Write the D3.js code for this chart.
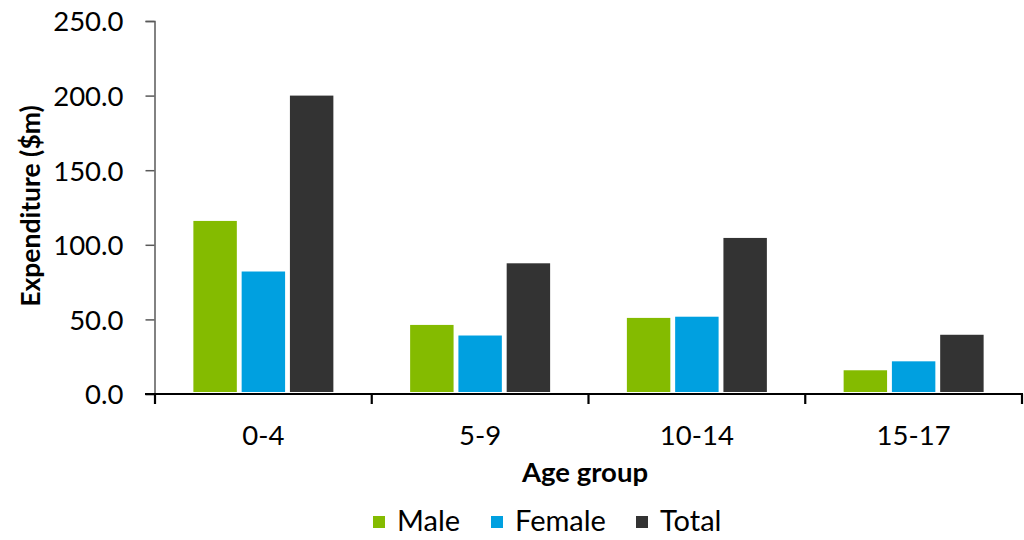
<!DOCTYPE html>
<html>
<head>
<meta charset="utf-8">
<script src="https://cdn.jsdelivr.net/npm/d3@7"></script>
<style>
  html, body { margin: 0; padding: 0; background: #fff; }
  svg { display: block; font-family: Lato, "Open Sans", sans-serif; }
</style>
</head>
<body>
<svg id="chart" width="1024" height="540"></svg>
<script>
// Expenditure by age group ($m)
const categories = ["0-4", "5-9", "10-14", "15-17"];
const seriesNames = ["Male", "Female", "Total"];
const male   = [116.0, 46.3, 51.0, 15.9];
const female = [82.1, 39.2, 51.8, 21.9];
const total  = [200.0, 87.6, 104.6, 39.7];
const yTicks = [0, 50, 100, 150, 200, 250];
const colors = ["#84bb00", "#00a0e0", "#333333"];

const values = [male, female, total];
const rows = categories.map((c, i) => ({
  category: c,
  items: seriesNames.map((s, j) => ({ series: s, value: values[j][i] }))
}));

const svg = d3.select("#chart");
const plotLeft = 155, plotRight = 1022, plotTop = 21, plotBottom = 394;

const x0 = d3.scaleBand().domain(categories).range([plotLeft, plotRight]).padding(0);
const x1 = d3.scaleBand().domain(seriesNames)
  .range([0, x0.bandwidth()]).paddingInner(0.1).paddingOuter(0.795);
const y = d3.scaleLinear().domain([0, 250]).range([plotBottom, plotTop]);
const color = d3.scaleOrdinal().domain(seriesNames).range(colors);

// bars
svg.append("g").selectAll("g").data(rows).join("g")
  .attr("transform", d => `translate(${x0(d.category)},0)`)
  .selectAll("rect").data(d => d.items).join("rect")
  .attr("x", d => x1(d.series))
  .attr("width", x1.bandwidth())
  .attr("y", d => y(d.value))
  .attr("height", d => y(0) - y(d.value) - 2)
  .attr("fill", d => color(d.series));

// y axis
const yAxis = svg.append("g")
  .attr("transform", `translate(${plotLeft - 0.5},0)`)
  .call(d3.axisLeft(y).tickValues(yTicks).tickFormat(d3.format(".1f")).tickSize(9).tickPadding(22));
yAxis.select(".domain").attr("stroke", "#595959").attr("stroke-width", 1.5);
yAxis.selectAll(".tick line").attr("stroke", "#595959").attr("stroke-width", 1.5);
yAxis.selectAll(".tick text")
  .attr("font-size", 27.5).attr("fill", "#000")
  .attr("font-family", "Lato, sans-serif")
  .attr("dy", "0.36em");

// x axis with ticks on band boundaries
const xg = svg.append("g");
xg.append("line")
  .attr("x1", plotLeft - 10).attr("x2", plotRight + 1)
  .attr("y1", plotBottom).attr("y2", plotBottom)
  .attr("stroke", "#000").attr("stroke-width", 2.2);
const bounds = categories.map(c => x0(c)).concat([x0(categories[categories.length - 1]) + x0.bandwidth()]);
xg.selectAll("line.tk").data(bounds).join("line")
  .attr("class", "tk")
  .attr("x1", d => d).attr("x2", d => d)
  .attr("y1", plotBottom).attr("y2", plotBottom + 10)
  .attr("stroke", "#000").attr("stroke-width", 2.2);
xg.selectAll("text").data(categories).join("text")
  .attr("x", d => x0(d) + x0.bandwidth() / 2)
  .attr("y", 445)
  .attr("text-anchor", "middle")
  .attr("font-size", 27.5)
  .text(d => d);

// axis titles
svg.append("text")
  .attr("x", 585).attr("y", 482)
  .attr("text-anchor", "middle")
  .attr("font-size", 27.5).attr("font-weight", "bold")
  .text("Age group");
svg.append("text")
  .attr("transform", "translate(40,206) rotate(-90)")
  .attr("text-anchor", "middle")
  .attr("font-size", 26.5).attr("font-weight", "bold")
  .text("Expenditure ($m)");

// legend
const legendX = [373, 491, 636];
const lg = svg.append("g").selectAll("g").data(seriesNames).join("g")
  .attr("transform", (d, i) => `translate(${legendX[i]},0)`);
lg.append("rect")
  .attr("x", 0).attr("y", 516).attr("width", 12).attr("height", 12)
  .attr("fill", d => color(d));
lg.append("text")
  .attr("x", 24).attr("y", 531)
  .attr("font-size", 29)
  .text(d => d);
</script>
</body>
</html>
